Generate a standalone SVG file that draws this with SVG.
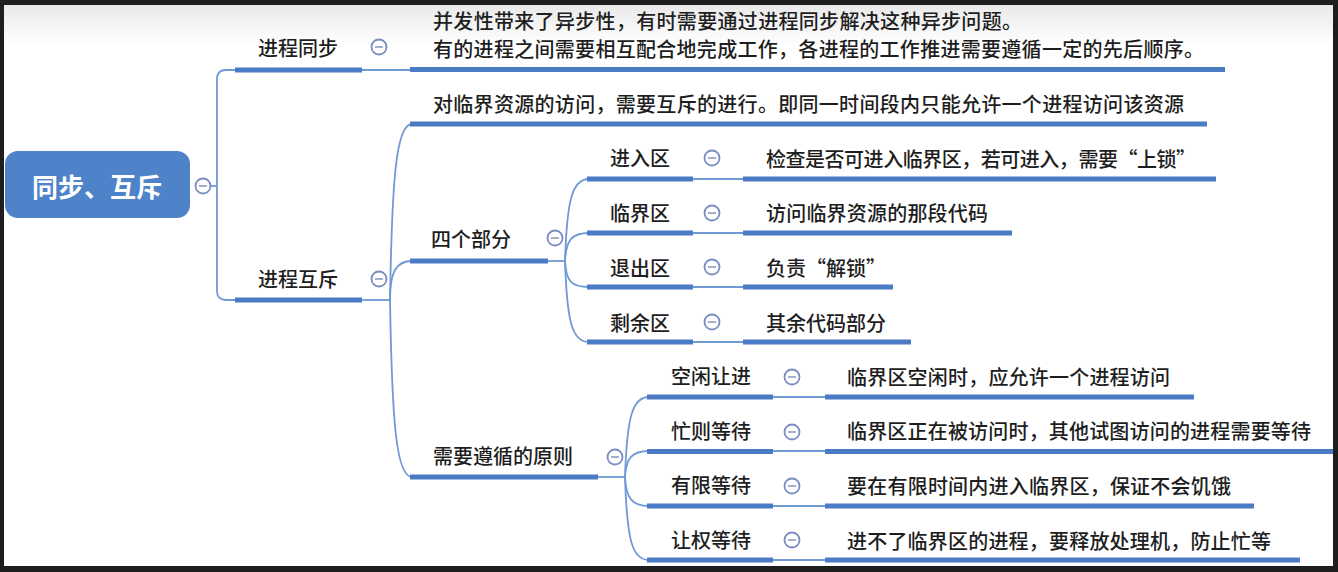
<svg xmlns="http://www.w3.org/2000/svg" width="1338" height="572" viewBox="0 0 1338 572">
<defs>
<linearGradient id="topfade" x1="0" y1="0" x2="0" y2="1">
<stop offset="0" stop-color="#e9e9e9"/>
<stop offset="1" stop-color="#ffffff"/>
</linearGradient>
<style>
.t{font-family:"Noto Sans CJK SC","Noto Sans",sans-serif;font-size:20px;font-weight:500;fill:#1e1e1e;}
.m{text-anchor:middle;}
.ul{stroke:#4a7bc4;stroke-width:5;stroke-linecap:butt;fill:none;}
.cn{stroke:#7099d6;stroke-width:1.8;fill:none;}
.cc{fill:#ffffff;stroke:#7a8dc2;stroke-width:1.8;}
.cm{stroke:#8b9bc4;stroke-width:1.6;}
</style>
</defs>
<rect x="0" y="0" width="1338" height="572" fill="#1e1e1e"/>
<rect x="4" y="5" width="1329" height="561" fill="#ffffff"/>
<rect x="4" y="5" width="1329" height="40" fill="url(#topfade)"/>

<g id="connectors">
<path class="cn" d="M210 186 H217"/>
<path class="cn" d="M235 70 H226 Q217 70 217 79 V291 Q217 300 226 300 H235"/>
<path class="cn" d="M362 70 H410"/>
<path class="cn" d="M362 300 H390"/>
<path class="cn" d="M390 300 C392 180 396 124 412 124"/>
<path class="cn" d="M390 300 C390 272 396 261 412 261"/>
<path class="cn" d="M390 300 C392 420 396 477 412 477"/>
<path class="cn" d="M548 261 H565"/>
<path class="cn" d="M565 261 C567 200 572 179 589 179"/>
<path class="cn" d="M565 261 C566 240 572 233 589 233"/>
<path class="cn" d="M565 261 C566 282 572 287 589 287"/>
<path class="cn" d="M565 261 C567 322 572 342 589 342"/>
<path class="cn" d="M693 179 H743"/>
<path class="cn" d="M693 233 H743"/>
<path class="cn" d="M693 287 H743"/>
<path class="cn" d="M693 342 H743"/>
<path class="cn" d="M598 477 H625"/>
<path class="cn" d="M625 477 C627 418 632 397 649 397"/>
<path class="cn" d="M625 477 C626 458 632 451 649 451"/>
<path class="cn" d="M625 477 C626 498 632 506 649 506"/>
<path class="cn" d="M625 477 C627 540 632 560 649 560"/>
<path class="cn" d="M773 397 H825"/>
<path class="cn" d="M773 451 H825"/>
<path class="cn" d="M773 506 H825"/>
<path class="cn" d="M773 560 H825"/>
</g>

<g id="root">
<rect x="5" y="151" width="185" height="67" rx="13" fill="#4f83c9"/>
<text x="97" y="197" font-family="'Noto Sans CJK SC','Noto Sans',sans-serif" font-size="26" font-weight="bold" fill="#ffffff" text-anchor="middle">同步、互斥</text>
<circle class="cc" cx="203" cy="186" r="7.5"/><line class="cm" x1="199" y1="186" x2="207" y2="186"/>
</g>

<g id="sync">
<text class="t m" x="298" y="56">进程同步</text>
<line class="ul" x1="235" y1="70" x2="362" y2="70"/>
<circle class="cc" cx="379" cy="47" r="7.5"/><line class="cm" x1="375" y1="47" x2="383" y2="47"/>
</g>
<g id="sync-detail">
<text class="t" x="433" y="29" textLength="589" lengthAdjust="spacing">并发性带来了异步性，有时需要通过进程同步解决这种异步问题。</text>
<text class="t" x="433" y="57" textLength="771" lengthAdjust="spacing">有的进程之间需要相互配合地完成工作，各进程的工作推进需要遵循一定的先后顺序。</text>
<line class="ul" x1="410" y1="69.5" x2="1225" y2="69.5"/>
</g>

<g id="mutex">
<text class="t m" x="298" y="287">进程互斥</text>
<line class="ul" x1="235" y1="300" x2="362" y2="300"/>
<circle class="cc" cx="379" cy="279" r="7.5"/><line class="cm" x1="375" y1="279" x2="383" y2="279"/>
</g>
<g id="mutex-detail">
<text class="t" x="433" y="112" textLength="751" lengthAdjust="spacing">对临界资源的访问，需要互斥的进行。即同一时间段内只能允许一个进程访问该资源</text>
<line class="ul" x1="410" y1="124" x2="1207" y2="124"/>
</g>

<g id="four-parts">
<text class="t m" x="471" y="247">四个部分</text>
<line class="ul" x1="410" y1="261" x2="548" y2="261"/>
<circle class="cc" cx="555" cy="238" r="7.5"/><line class="cm" x1="551" y1="238" x2="559" y2="238"/>
</g>
<g id="entry">
<text class="t m" x="640" y="166">进入区</text>
<line class="ul" x1="587" y1="179" x2="693" y2="179"/>
<circle class="cc" cx="712" cy="158" r="7.5"/><line class="cm" x1="708" y1="158" x2="716" y2="158"/>
</g>
<g id="entry-detail">
<text class="t" x="766" y="167" textLength="430" lengthAdjust="spacing">检查是否可进入临界区，若可进入，需要“上锁”</text>
<line class="ul" x1="743" y1="179" x2="1216" y2="179"/>
</g>
<g id="critical">
<text class="t m" x="640" y="221">临界区</text>
<line class="ul" x1="587" y1="233" x2="693" y2="233"/>
<circle class="cc" cx="712" cy="213" r="7.5"/><line class="cm" x1="708" y1="213" x2="716" y2="213"/>
</g>
<g id="critical-detail">
<text class="t" x="766" y="221" textLength="222" lengthAdjust="spacing">访问临界资源的那段代码</text>
<line class="ul" x1="743" y1="233" x2="1012" y2="233"/>
</g>
<g id="exit">
<text class="t m" x="640" y="276">退出区</text>
<line class="ul" x1="587" y1="287" x2="693" y2="287"/>
<circle class="cc" cx="712" cy="267" r="7.5"/><line class="cm" x1="708" y1="267" x2="716" y2="267"/>
</g>
<g id="exit-detail">
<text class="t" x="766" y="276">负责“解锁”</text>
<line class="ul" x1="743" y1="287" x2="893" y2="287"/>
</g>
<g id="remainder">
<text class="t m" x="640" y="331">剩余区</text>
<line class="ul" x1="587" y1="342" x2="693" y2="342"/>
<circle class="cc" cx="712" cy="322" r="7.5"/><line class="cm" x1="708" y1="322" x2="716" y2="322"/>
</g>
<g id="remainder-detail">
<text class="t" x="766" y="331">其余代码部分</text>
<line class="ul" x1="743" y1="342" x2="911" y2="342"/>
</g>

<g id="principles">
<text class="t m" x="503" y="464">需要遵循的原则</text>
<line class="ul" x1="410" y1="477" x2="598" y2="477"/>
<circle class="cc" cx="615" cy="457" r="7.5"/><line class="cm" x1="611" y1="457" x2="619" y2="457"/>
</g>
<g id="idle">
<text class="t m" x="711" y="384">空闲让进</text>
<line class="ul" x1="647" y1="397" x2="773" y2="397"/>
<circle class="cc" cx="792" cy="377" r="7.5"/><line class="cm" x1="788" y1="377" x2="796" y2="377"/>
</g>
<g id="idle-detail">
<text class="t" x="847" y="385" textLength="323" lengthAdjust="spacing">临界区空闲时，应允许一个进程访问</text>
<line class="ul" x1="825" y1="397" x2="1194" y2="397"/>
</g>
<g id="busy">
<text class="t m" x="711" y="439">忙则等待</text>
<line class="ul" x1="647" y1="451.5" x2="773" y2="451.5"/>
<circle class="cc" cx="792" cy="432" r="7.5"/><line class="cm" x1="788" y1="432" x2="796" y2="432"/>
</g>
<g id="busy-detail">
<text class="t" x="847" y="439" textLength="464" lengthAdjust="spacing">临界区正在被访问时，其他试图访问的进程需要等待</text>
<line class="ul" x1="825" y1="451.5" x2="1333" y2="451.5"/>
</g>
<g id="bounded">
<text class="t m" x="711" y="493">有限等待</text>
<line class="ul" x1="647" y1="506" x2="773" y2="506"/>
<circle class="cc" cx="792" cy="486" r="7.5"/><line class="cm" x1="788" y1="486" x2="796" y2="486"/>
</g>
<g id="bounded-detail">
<text class="t" x="847" y="494" textLength="384" lengthAdjust="spacing">要在有限时间内进入临界区，保证不会饥饿</text>
<line class="ul" x1="825" y1="506" x2="1254" y2="506"/>
</g>
<g id="yield">
<text class="t m" x="711" y="548">让权等待</text>
<line class="ul" x1="647" y1="560" x2="773" y2="560"/>
<circle class="cc" cx="792" cy="540" r="7.5"/><line class="cm" x1="788" y1="540" x2="796" y2="540"/>
</g>
<g id="yield-detail">
<text class="t" x="847" y="549" textLength="424" lengthAdjust="spacing">进不了临界区的进程，要释放处理机，防止忙等</text>
<line class="ul" x1="825" y1="560" x2="1300" y2="560"/>
</g>
</svg>
